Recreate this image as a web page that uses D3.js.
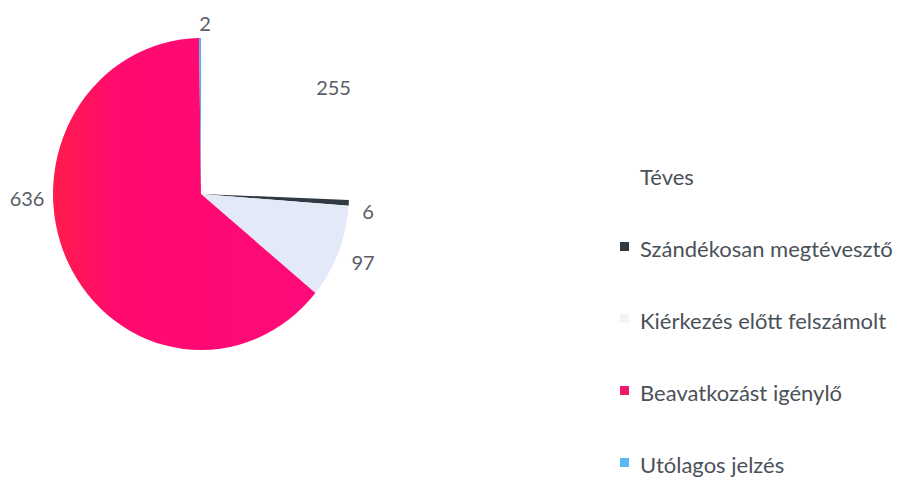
<!DOCTYPE html>
<html>
<head>
<meta charset="utf-8">
<script src="https://cdn.jsdelivr.net/npm/d3@7"></script>
<style>
  body { margin: 0; background: #fff; }
  svg { display: block; }
</style>
</head>
<body>
<div id="chart"></div>
<script>
// Slice data, in drawing order (clockwise from 12 o'clock)
const categories = ['Téves', 'Szándékosan megtévesztő', 'Kiérkezés előtt felszámolt', 'Beavatkozást igénylő', 'Utólagos jelzés'];
const values = [255, 6, 97, 636, 2];
const colors = ['#ffffff', '#2f3a42', '#e4e9f8', 'url(#pinkGrad)', '#4eb0ee'];
const legendColors = ['#ffffff', '#2f3a42', '#eef6fa', '#f0196e', '#5ab8f2'];

const width = 902;
const height = 483;
const cx = 201, cy = 194;
const rx = 148, ry = 156;

const svg = d3.select('#chart')
  .append('svg')
  .attr('width', width)
  .attr('height', height);

// Pink slice has a slight red tint on its left side
const grad = svg.append('defs').append('linearGradient')
  .attr('id', 'pinkGrad')
  .attr('gradientUnits', 'userSpaceOnUse')
  .attr('x1', -rx).attr('y1', 0)
  .attr('x2', rx).attr('y2', 0);
grad.append('stop').attr('offset', '0%').attr('stop-color', '#ff1c4c');
grad.append('stop').attr('offset', '22%').attr('stop-color', '#ff0a6e');
grad.append('stop').attr('offset', '100%').attr('stop-color', '#fe0a7c');

const pie = d3.pie().sort(null).value(d => d)(values);

const arc = d3.arc().innerRadius(0).outerRadius(rx);

// Pie is slightly taller than wide in the reference
const g = svg.append('g')
  .attr('transform', `translate(${cx},${cy}) scale(1,${ry / rx})`);

g.selectAll('path')
  .data(pie)
  .join('path')
  .attr('d', arc)
  .attr('fill', (d, i) => colors[i]);

// Value labels, placed on a ring outside the pie
const angleNudge = [0.09, 0.05, 0.02, 0.42, 0.03]; // radians, Excel-style label shifts
const radiusNudge = [0, -2, 6, 4, 0];

svg.append('g')
  .selectAll('text')
  .data(pie)
  .join('text')
  .attr('transform', (d, i) => {
    const a = (d.startAngle + d.endAngle) / 2 + angleNudge[i];
    const r = 170 + radiusNudge[i];
    return `translate(${cx + r * Math.sin(a)},${cy - r * Math.cos(a)})`;
  })
  .attr('text-anchor', 'middle')
  .attr('dy', '0.35em')
  .style('font-family', 'Lato, "Open Sans", sans-serif')
  .style('font-size', '20px')
  .style('fill', '#585e66')
  .text(d => d.data);

// Legend
const legend = svg.append('g')
  .attr('transform', 'translate(620,177)');

const rows = legend.selectAll('g')
  .data(categories)
  .join('g')
  .attr('transform', (d, i) => `translate(0,${i * 72})`);

rows.append('rect')
  .attr('x', 0)
  .attr('y', -7)
  .attr('width', 9)
  .attr('height', 9)
  .attr('fill', (d, i) => legendColors[i]);

rows.append('text')
  .attr('x', 20)
  .attr('dy', '0.35em')
  .style('font-family', 'Lato, "Open Sans", sans-serif')
  .style('font-size', '22px')
  .style('fill', '#4b5159')
  .text(d => d);
</script>
</body>
</html>
